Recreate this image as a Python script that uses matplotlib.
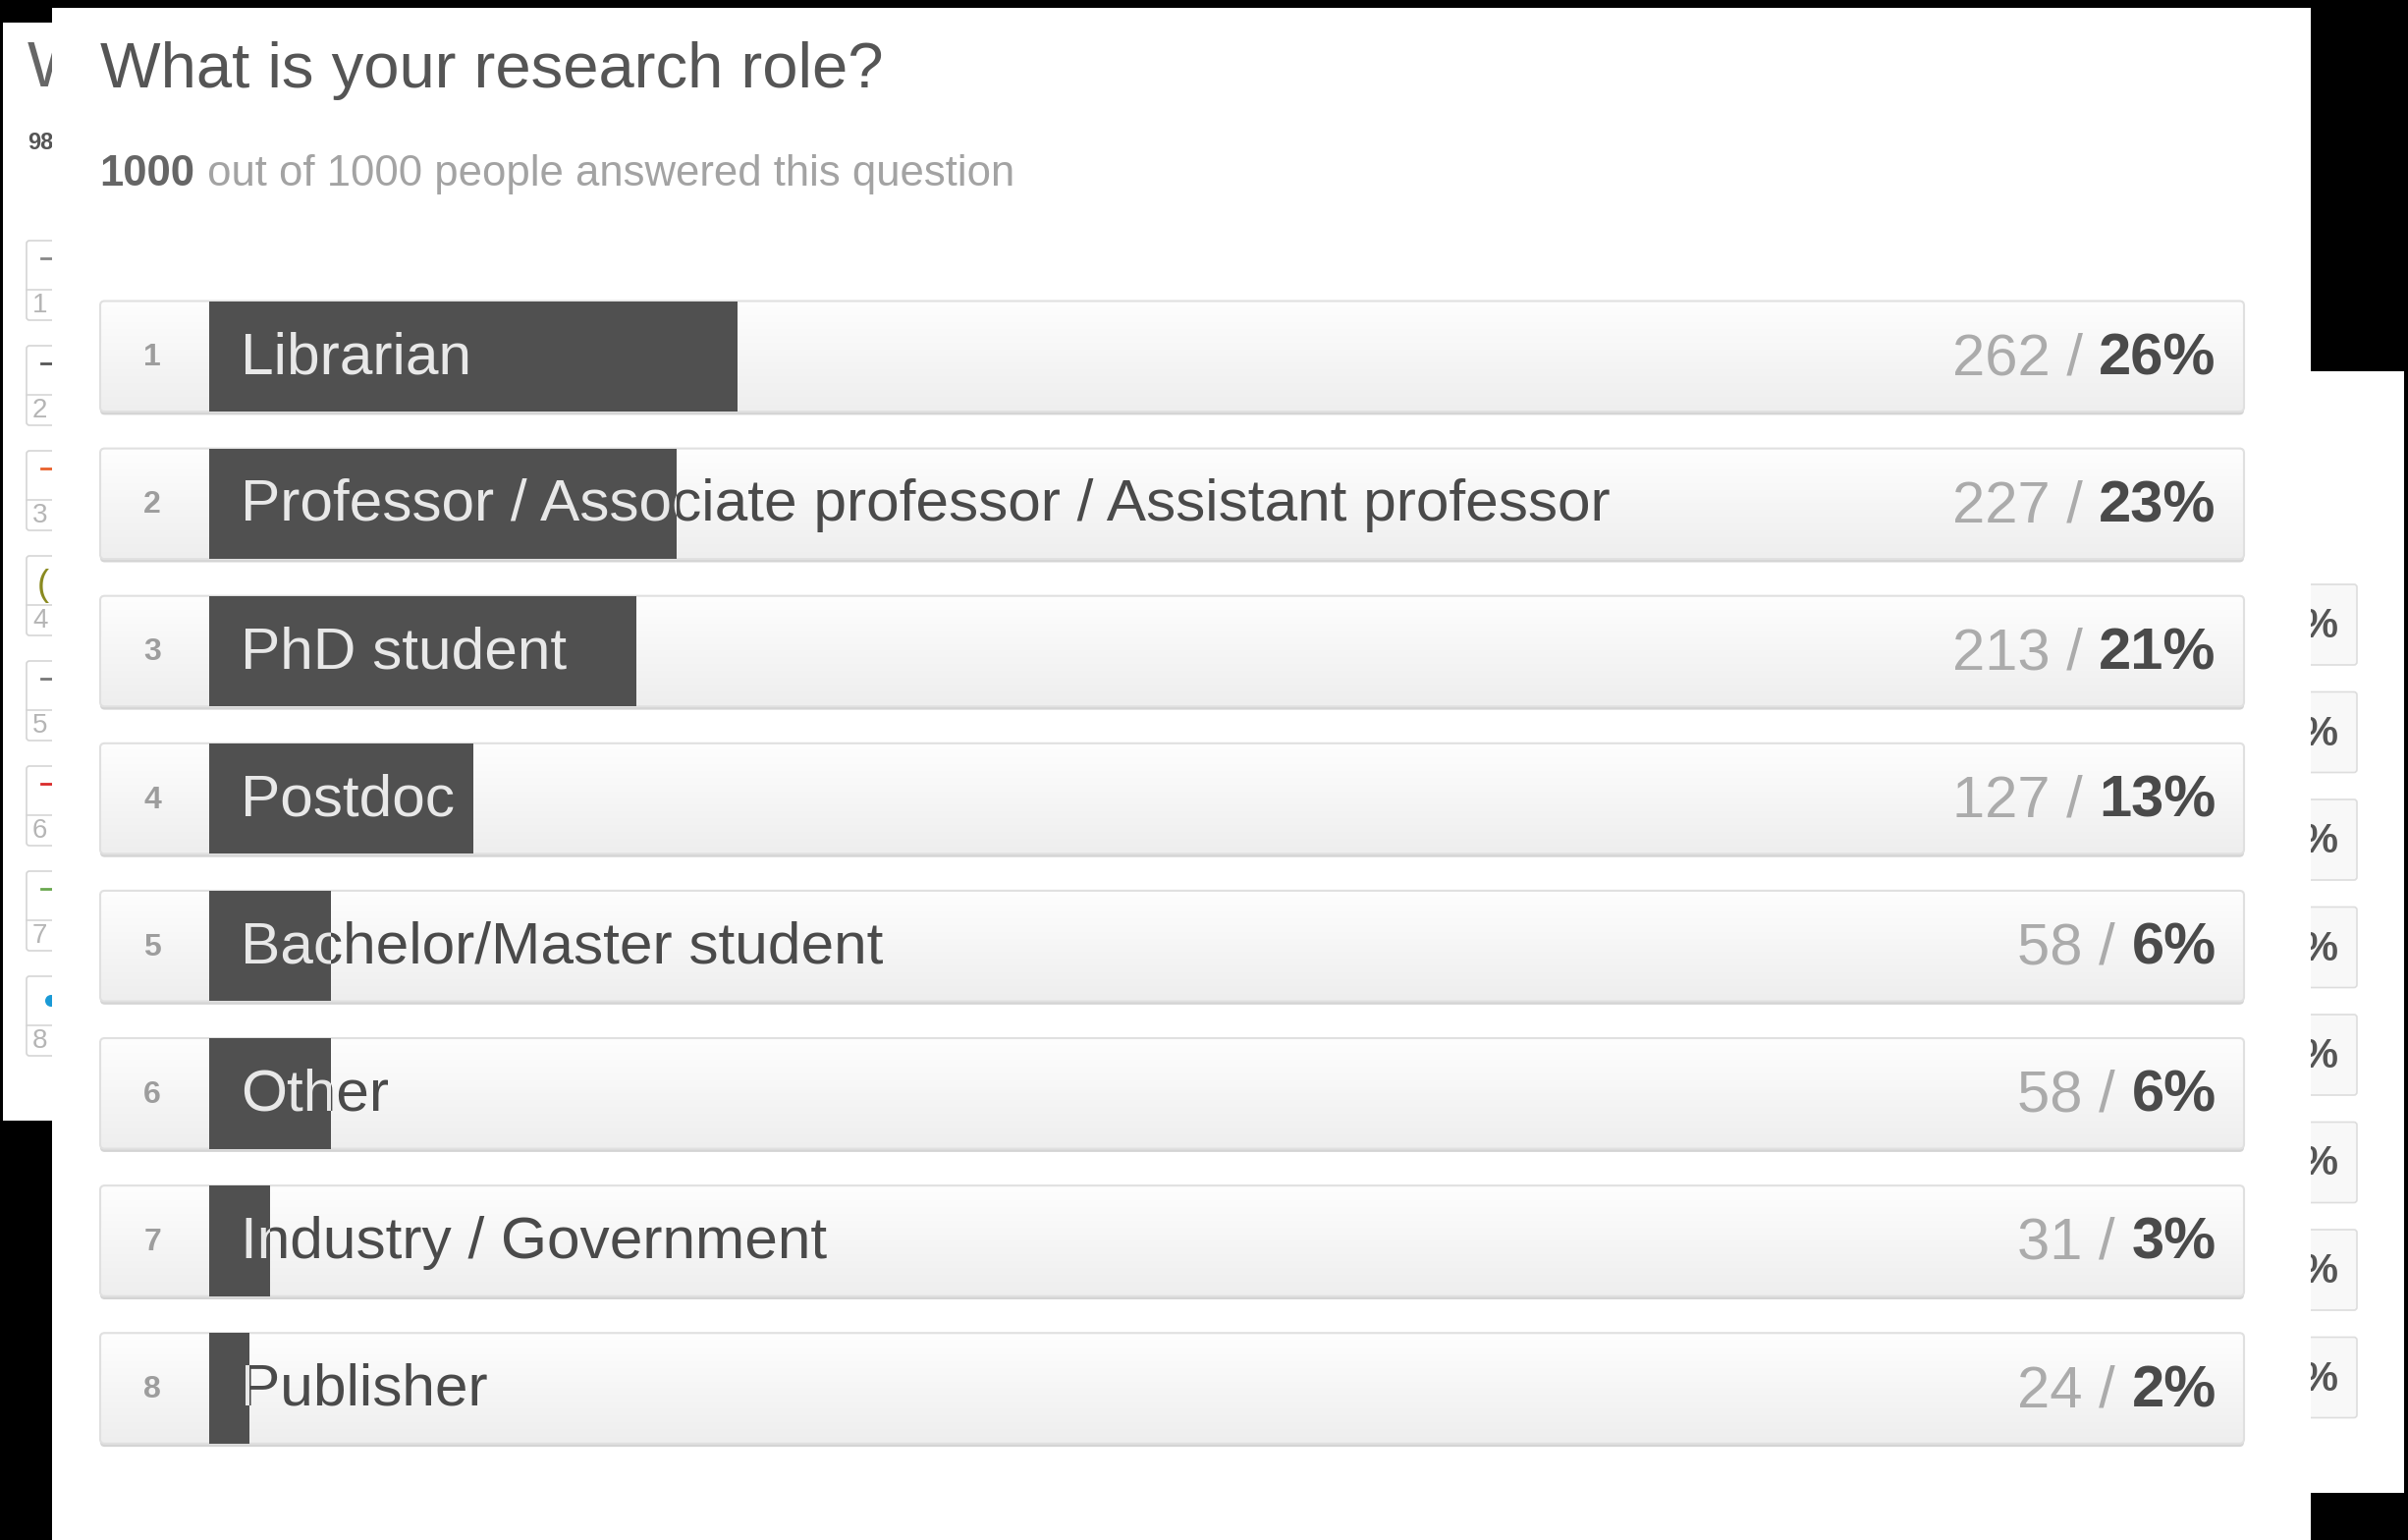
import numpy as np
import matplotlib
matplotlib.use("Agg")
import matplotlib.pyplot as plt
from matplotlib.patches import Rectangle, FancyBboxPatch, Circle
from matplotlib.colors import LinearSegmentedColormap

plt.rcParams['font.family'] = ['Liberation Sans', 'DejaVu Sans']

# ---------------- data ----------------
title = "What is your research role?"
answered = 1000
total = 1000
ranks = [1, 2, 3, 4, 5, 6, 7, 8]
roles = ["Librarian",
         "Professor / Associate professor / Assistant professor",
         "PhD student",
         "Postdoc",
         "Bachelor/Master student",
         "Other",
         "Industry / Government",
         "Publisher"]
counts = [262, 227, 213, 127, 58, 58, 31, 24]
percents = [26, 23, 21, 13, 6, 6, 3, 2]

# ---------------- canvas ----------------
W, H = 2452, 1568
fig = plt.figure(figsize=(W / 100, H / 100), dpi=100, facecolor='black')
bg = fig.add_axes([0, 0, 1, 1])
bg.set_xlim(0, W)
bg.set_ylim(H, 0)
bg.axis('off')

# left background window (partially hidden)
bg.add_patch(Rectangle((3, 23), 50, 1141 - 23, fc='white', ec='none', zorder=1))
bg.text(28, 88, "W", fontsize=47, color='#666666', zorder=2)
bg.text(28, 152, "98", fontsize=17, fontweight='bold', color='#555555', zorder=2)
icon_colors = ['#888888', '#555555', '#e8602c', '#8a8a20', '#777777', '#d92b2b', '#6aa84f', '#1a9ad6']
for k in range(8):
    top = 245 + 107 * k
    bg.add_patch(FancyBboxPatch((27, top), 60, 81, boxstyle='round,pad=0,rounding_size=3',
                                fc='white', ec='#d5d5d5', lw=1.2, zorder=2))
    bg.plot([27, 87], [top + 50, top + 50], color='#d5d5d5', lw=1.2, zorder=3)
    bg.text(33, top + 66, str(k + 1), fontsize=20, color='#b5b5b5', va='center', zorder=3)
    if k == 7:
        bg.add_patch(Circle((52, top + 25), 6, fc=icon_colors[k], ec='none', zorder=3))
    elif k == 3:
        bg.text(38, top + 30, "(", fontsize=26, color=icon_colors[k], va='center', zorder=3)
    else:
        bg.plot([42, 53], [top + 18, top + 18], color=icon_colors[k], lw=2, zorder=3)

# right background window (partially hidden)
bg.add_patch(Rectangle((2353, 378), 2448 - 2353, 1520 - 378, fc='white', ec='none', zorder=1))
for k in range(8):
    top = 595 + 109.5 * k
    bg.add_patch(FancyBboxPatch((2300, top), 100, 82, boxstyle='round,pad=0,rounding_size=3',
                                fc='#f8f8f8', ec='#dddddd', lw=1.2, zorder=2))
    bg.text(2381, top + 43, "%", fontsize=30, fontweight='bold', color='#555555',
            ha='right', va='center', zorder=3)

# main window
bg.add_patch(Rectangle((53, 8), 2353 - 53, H - 8, fc='white', ec='none', zorder=5))
bg.text(101.6, 89, title, fontsize=47, color='#555555', va='baseline', zorder=6)
s1 = bg.text(101.6, 189, f"{answered}", fontsize=31.4, fontweight='bold', color='#666666',
             va='baseline', zorder=6)
bg.annotate(f" out of {total} people answered this question", xy=(1, 0), xycoords=s1,
            va='bottom', ha='left', fontsize=31.4, color='#a3a3a3', zorder=6)

# ---------------- chart ----------------
x_bar0, x_bar100 = 212.7, 2285.0
box_left = 102.0
XMIN = -(x_bar0 - box_left) / ((x_bar100 - x_bar0) / 100.0)
top_px, bot_px = 306.5, 1469.8
ax = fig.add_axes([box_left / W, 1 - bot_px / H, (x_bar100 - box_left) / W, (bot_px - top_px) / H])
ax.axis('off')

n = len(roles)
ypos = np.arange(n)
hgt = 0.75
px_x = (x_bar100 - x_bar0) / 100.0
px_y = (bot_px - top_px) / (n - 1 + hgt)
asp = px_x / px_y

grad = np.linspace(0, 1, 128).reshape(-1, 1)
gcmap = LinearSegmentedColormap.from_list('g', ['#fefefe', '#eeeeee'])
style = 'round,pad=0,rounding_size=0.22'
for i in range(n):
    y0 = ypos[i] - hgt / 2
    ax.add_patch(FancyBboxPatch((XMIN, y0 + 0.022), 100 - XMIN, hgt, boxstyle=style,
                                mutation_aspect=asp, fc='#d4d4d4', ec='none',
                                clip_on=False, zorder=1))
    box = FancyBboxPatch((XMIN, y0), 100 - XMIN, hgt, boxstyle=style, mutation_aspect=asp,
                         fc='none', ec='#e0e0e0', lw=1.5, clip_on=False, zorder=3)
    ax.add_patch(box)
    im = ax.imshow(grad, extent=(XMIN, 100, y0 + hgt, y0), cmap=gcmap, aspect='auto',
                   interpolation='bilinear', zorder=2)
    im.set_clip_path(box)

bars = ax.barh(ypos, percents, height=hgt, left=0, color='#505050', zorder=5)

lab_dy = 0.012
cnt_dy = 0.02
for i in range(n):
    ax.text(-2.78, ypos[i] + 0.01, str(ranks[i]), ha='center', va='center', fontsize=23,
            fontweight='bold', color='#9d9d9d', zorder=6)
    ax.text(1.58, ypos[i] + lab_dy, roles[i], ha='left', va='center', fontsize=43.5,
            color='#4a4a4a', zorder=4)
    t = ax.text(1.58, ypos[i] + lab_dy, roles[i], ha='left', va='center', fontsize=43.5,
                color='#e8e8e8', zorder=6, clip_on=True)
    t.set_clip_path(bars[i])
    p = ax.text(98.64, ypos[i] + cnt_dy, f"{percents[i]}%", ha='right', va='center',
                fontsize=43, fontweight='bold', color='#4a4a4a', zorder=6)
    ax.annotate(f"{counts[i]} / ", xy=(0, 0.5), xycoords=p, ha='right', va='center',
                fontsize=43, color='#ababab', zorder=6)

ax.set_xlim(XMIN, 100)
ax.set_ylim(n - 1 + hgt / 2, -hgt / 2)

fig.savefig('out.png', dpi=100, facecolor='black')
